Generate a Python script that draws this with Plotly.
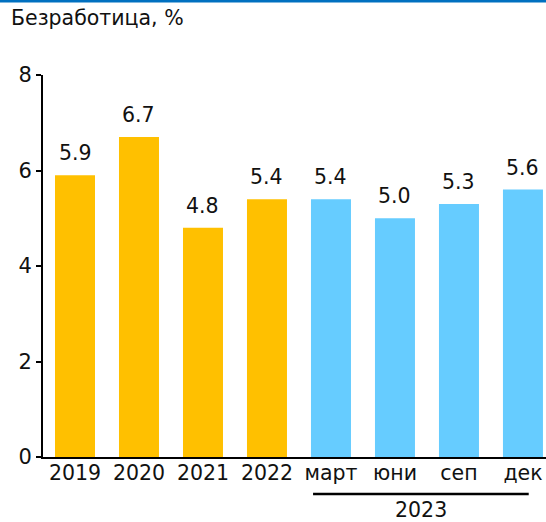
import plotly.graph_objects as go

categories = ["2019", "2020", "2021", "2022", "март", "юни", "сеп", "дек"]
values = [5.9, 6.7, 4.8, 5.4, 5.4, 5.0, 5.3, 5.6]
colors = ["#FFC000"] * 4 + ["#66CCFF"] * 4
value_labels = [f"{v:.1f}" for v in values]
group_label = "2023"
title_text = "Безработица, %"
y_ticks = [0, 2, 4, 6, 8]

FONT = "DejaVu Sans"
FS = 20.5

fig = go.Figure()
fig.add_trace(go.Bar(
    x=list(range(len(categories))), y=values,
    marker=dict(color=colors, line=dict(width=0)),
    width=0.625, hoverinfo="skip",
))

for i, (v, t) in enumerate(zip(values, value_labels)):
    fig.add_annotation(x=i, y=v, text=t, showarrow=False, yanchor="bottom",
                       yshift=8, font=dict(family=FONT, size=FS, color="#111"))

# group line + label for 2023
fig.add_shape(type="line", xref="x", yref="paper", x0=3.72, x1=7.09,
              y0=-0.097, y1=-0.097, line=dict(color="black", width=2.5))
fig.add_annotation(xref="x", yref="paper", x=5.4, y=-0.140, yanchor="middle",
                   text=group_label, showarrow=False,
                   font=dict(family=FONT, size=FS, color="#111"))

# top blue border
fig.add_shape(type="line", xref="paper", yref="paper", x0=-0.1, x1=1.0,
              y0=1 + 74 / 382, y1=1 + 74 / 382, line=dict(color="#0070C0", width=3))

fig.add_annotation(xref="paper", yref="paper", x=-34 / 503, y=1 + 57 / 382,
                   xanchor="left", yanchor="middle", text=title_text, showarrow=False,
                   font=dict(family=FONT, size=FS, color="#111"))

fig.update_layout(
    width=546, height=522,
    margin=dict(l=43, r=0, t=75, b=65),
    paper_bgcolor="white", plot_bgcolor="white",
    showlegend=False,
    font=dict(family=FONT, size=FS, color="#111"),
    xaxis=dict(range=[-0.5, 7.36], tickmode="array",
               tickvals=list(range(len(categories))), ticktext=categories,
               showline=True, linecolor="black", linewidth=2, ticks="",
               ticklabelstandoff=-4,
               showgrid=False, zeroline=False, fixedrange=True,
               tickfont=dict(family=FONT, size=FS, color="#111")),
    yaxis=dict(range=[0, 8], tickvals=y_ticks, showline=True, linecolor="black",
               linewidth=2, ticks="outside", ticklen=5, tickwidth=2, tickcolor="black",
               showgrid=False, zeroline=False, fixedrange=True,
               tickfont=dict(family=FONT, size=21, color="#111")),
)

fig.write_html("out.html", config={"displayModeBar": False},
               post_script="document.body.style.margin='0';document.body.style.overflow='hidden';")
